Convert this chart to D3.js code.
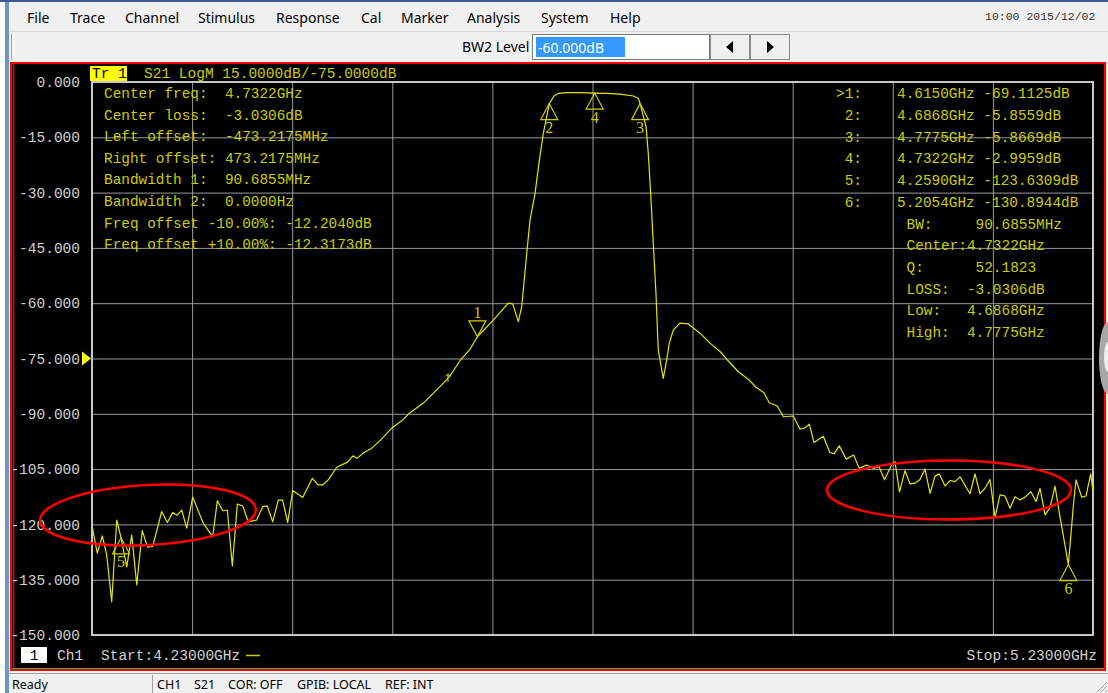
<!DOCTYPE html>
<html>
<head>
<meta charset="utf-8">
<script src="https://cdn.jsdelivr.net/npm/d3@7"></script>
<style>
  html, body { margin: 0; padding: 0; background: #f0f0f0; overflow: hidden; }
  svg text { white-space: pre; }
</style>
</head>
<body>
<div id="plotDiv"></div>
<script>
// S21 trace, frequency in GHz and level in dB
var freqs = [
  4.2303,4.2353,4.2403,4.2447,4.2497,4.2547,4.2590,4.2647,4.2697,4.2747,
  4.2802,4.2856,4.2906,4.2996,4.3052,4.3106,4.3152,4.3196,4.3246,4.3306,
  4.3412,4.3506,4.3552,4.3606,4.3652,4.3702,4.3752,4.3806,4.3861,4.3945,
  4.4005,4.4051,4.4105,4.4161,4.4205,4.4255,4.4305,4.4405,4.4501,4.4558,
  4.4605,4.4661,4.4745,4.4852,4.4907,4.4947,4.5017,4.5087,4.5187,4.5294,
  4.5394,4.5477,4.5610,4.5704,4.5810,4.5876,4.5976,4.6076,4.6150,4.6309,
  4.6459,4.6503,4.6559,4.6593,4.6643,4.6676,4.6726,4.6769,4.6809,4.6849,
  4.6868,4.6915,4.6958,4.7042,4.7175,4.7322,4.7442,4.7575,4.7708,4.7758,
  4.7775,4.7835,4.7857,4.7881,4.7907,4.7934,4.7957,4.8007,4.8041,4.8067,
  4.8107,4.8174,4.8254,4.8376,4.8476,4.8574,4.8647,4.8757,4.8856,4.8933,
  4.9013,4.9066,4.9146,4.9206,4.9306,4.9373,4.9423,4.9466,4.9513,4.9606,
  4.9670,4.9715,4.9765,4.9835,4.9909,4.9965,5.0035,5.0112,5.0162,5.0217,
  5.0292,5.0322,5.0367,5.0422,5.0472,5.0522,5.0572,5.0622,5.0672,5.0722,
  5.0765,5.0822,5.0872,5.0922,5.0972,5.1071,5.1121,5.1171,5.1221,5.1271,
  5.1321,5.1371,5.1421,5.1471,5.1521,5.1571,5.1621,5.1678,5.1731,5.1771,
  5.1821,5.1871,5.1921,5.1953,5.2054,5.2103,5.2130,5.2187,5.2230,5.2277,
  5.2300];
var s21 = [
  -120.8,-127.8,-123.1,-128.3,-141.0,-118.8,-123.6,-131.5,-122.9,-136.4,
  -121.7,-126.2,-126.0,-116.5,-119.5,-116.8,-117.5,-116.1,-121.0,-112.6,
  -119.7,-123.3,-113.6,-116.3,-116.1,-131.3,-114.5,-115.0,-119.3,-118.8,
  -115.2,-115.0,-119.3,-113.4,-113.4,-119.5,-110.8,-112.7,-107.5,-109.3,
  -109.3,-107.9,-104.5,-103.1,-101.4,-102.1,-100.5,-99.5,-97.0,-93.9,
  -91.9,-89.7,-87.1,-84.6,-81.7,-79.7,-75.6,-72.5,-69.1,-64.6,
  -60.0,-60.2,-65.0,-60.9,-46.5,-37.4,-30.2,-21.2,-13.9,-8.5,
  -5.86,-3.8,-3.1,-2.9,-2.9,-3.0,-3.1,-3.3,-3.8,-4.4,
  -5.87,-12.1,-19.3,-30.2,-43.7,-57.3,-72.7,-80.4,-75.4,-70.9,
  -67.3,-65.4,-65.6,-68.2,-70.9,-73.1,-75.4,-78.6,-80.6,-82.8,
  -84.3,-87.0,-87.9,-90.8,-90.6,-94.2,-93.8,-92.8,-97.8,-96.1,
  -100.5,-100.8,-98.7,-102.3,-101.2,-104.8,-103.9,-104.8,-104.3,-107.9,
  -103.6,-103.0,-111.2,-105.4,-109.0,-108.8,-107.8,-105.0,-111.6,-106.9,
  -106.3,-109.6,-108.1,-108.4,-107.1,-111.7,-106.3,-111.7,-110.2,-107.8,
  -118.1,-112.0,-112.3,-115.6,-112.5,-113.4,-112.6,-111.1,-113.8,-110.2,
  -117.4,-115.4,-109.6,-115.2,-130.9,-115.2,-107.9,-112.6,-112.3,-106.3,
  -111.1];

var markerIds = [1, 2, 3, 4, 5, 6];
var markerFreqs = [4.6150, 4.6868, 4.7775, 4.7322, 4.2590, 5.2054];
var markerVals = [-69.1125, -5.8559, -5.8669, -2.9959, -123.6309, -130.8944];
var markerUp = [false, true, true, true, true, true];
// little arrow glyph sitting on the rising skirt
var arrowPoint = [4.5856, -80.0];

var startFreq = 4.23, stopFreq = 5.23;
var topDb = 0, bottomDb = -150, refDb = -75;
var xTicks = [4.23, 4.33, 4.43, 4.53, 4.63, 4.73, 4.83, 4.93, 5.03, 5.13, 5.23];
var yTicks = [0, -15, -30, -45, -60, -75, -90, -105, -120, -135, -150];

var filterInfo = [
  "Center freq:  4.7322GHz",
  "Center loss:  -3.0306dB",
  "Left offset:  -473.2175MHz",
  "Right offset: 473.2175MHz",
  "Bandwidth 1:  90.6855MHz",
  "Bandwidth 2:  0.0000Hz",
  "Freq offset -10.00%: -12.2040dB",
  "Freq offset +10.00%: -12.3173dB"
];
var bwInfo = [
  "BW:     90.6855MHz",
  "Center:4.7322GHz",
  "Q:      52.1823",
  "LOSS:  -3.0306dB",
  "Low:   4.6868GHz",
  "High:  4.7775GHz"
];
var menuItems = ["File", "Trace", "Channel", "Stimulus", "Response", "Cal", "Marker", "Analysis", "System", "Help"];
var statusItems = ["CH1", "S21", "COR: OFF", "GPIB: LOCAL", "REF: INT"];

// layout of window pieces (screen positions, not data)
var menuX = [27, 70, 125, 198, 276, 361, 401, 467, 541, 610];
var statusX = [157, 194, 228, 297, 385];

var W = 1108, H = 693;
var plot = {left: 92, right: 1093, top: 82, bottom: 635};
var mono = "'Liberation Mono', 'DejaVu Sans Mono', monospace";
var ui = "'Noto Sans', 'Open Sans', sans-serif";
var txtYellow = "#cccc00";
var axisGrey = "#d0d0d0";

var svg = d3.select('#plotDiv')
    .append('svg')
    .attr('width', W)
    .attr('height', H)
    .style('display', 'block');

// ---- window chrome ----
svg.append('rect').attr('width', W).attr('height', H).attr('fill', '#f0f0f0');
svg.append('rect').attr('x', 0).attr('y', 0).attr('width', W).attr('height', 2).attr('fill', '#3b5b8e');
svg.append('rect').attr('x', 0).attr('y', 2).attr('width', 5).attr('height', H).attr('fill', '#ffffff');
svg.append('rect').attr('x', 5).attr('y', 2).attr('width', 4).attr('height', H).attr('fill', '#6c97c6');

var menu = svg.append('g').attr('id', 'menu');
menu.selectAll('text')
    .data(menuItems)
    .enter()
    .append('text')
      .attr('x', function(d, i) { return menuX[i]; })
      .attr('y', 17)
      .attr('dominant-baseline', 'central')
      .attr('font-family', ui)
      .attr('font-size', 14)
      .attr('fill', '#000')
      .text(function(d) { return d; });

menu.append('text')
    .attr('x', 985).attr('y', 16)
    .attr('dominant-baseline', 'central')
    .attr('font-family', mono)
    .attr('font-size', 11.5)
    .attr('fill', '#333')
    .text("10:00 2015/12/02");

// toolbar
svg.append('line').attr('x1', 9).attr('x2', W).attr('y1', 31.5).attr('y2', 31.5).attr('stroke', '#d9d9d9');
svg.append('line').attr('x1', 11.5).attr('x2', 11.5).attr('y1', 34).attr('y2', 60).attr('stroke', '#a0a0a0');
svg.append('line').attr('x1', 13.5).attr('x2', 13.5).attr('y1', 34).attr('y2', 60).attr('stroke', '#ffffff');
svg.append('text')
    .attr('x', 462).attr('y', 46)
    .attr('dominant-baseline', 'central')
    .attr('font-family', ui).attr('font-size', 14)
    .text("BW2 Level");
svg.append('rect').attr('x', 532.5).attr('y', 34.5).attr('width', 177).attr('height', 25)
    .attr('fill', '#fff').attr('stroke', '#7a7a7a');
svg.append('rect').attr('x', 536).attr('y', 37).attr('width', 89).attr('height', 20).attr('fill', '#3399ff');
svg.append('text')
    .attr('x', 538).attr('y', 47)
    .attr('dominant-baseline', 'central')
    .attr('font-family', ui).attr('font-size', 14).attr('fill', '#fff')
    .text("-60.000dB");
[710.5, 750.5].forEach(function(bx, i) {
    svg.append('rect').attr('x', bx).attr('y', 34.5).attr('width', 39).attr('height', 25)
        .attr('fill', '#f0f0f0').attr('stroke', '#8a8a8a');
    var cx = bx + 19.5, cy = 47;
    var d = i === 0
        ? 'M' + (cx - 4) + ',' + cy + 'L' + (cx + 3) + ',' + (cy - 6) + 'L' + (cx + 3) + ',' + (cy + 6) + 'Z'
        : 'M' + (cx + 4) + ',' + cy + 'L' + (cx - 3) + ',' + (cy - 6) + 'L' + (cx - 3) + ',' + (cy + 6) + 'Z';
    svg.append('path').attr('d', d).attr('fill', '#000');
});

// chart frame
svg.append('rect').attr('x', 11).attr('y', 63).attr('width', 1094).attr('height', 607)
    .attr('fill', '#000').attr('stroke', '#ff0000').attr('stroke-width', 2);
svg.append('line').attr('x1', 13.8).attr('x2', 13.8).attr('y1', 64).attr('y2', 669).attr('stroke', '#ff0000').attr('stroke-width', 1.2);
svg.append('line').attr('x1', 12).attr('x2', 1104).attr('y1', 668.5).attr('y2', 668.5).attr('stroke', '#2db34a').attr('stroke-width', 1);
svg.append('path')
    .attr('d', 'M1108,322 A9,36 0 0 0 1108,394 Z')
    .attr('fill', '#a8a8a8');
svg.append('path')
    .attr('d', 'M1108,342 A4,15 0 0 0 1108,372 Z')
    .attr('fill', '#f0f0f0');

// status bar
svg.append('rect').attr('x', 9).attr('y', 673).attr('width', W - 9).attr('height', 20).attr('fill', '#f0f0f0');
svg.append('line').attr('x1', 9).attr('x2', W).attr('y1', 673.5).attr('y2', 673.5).attr('stroke', '#a0a0a0');
svg.append('line').attr('x1', 152.5).attr('x2', 152.5).attr('y1', 675).attr('y2', 693).attr('stroke', '#a0a0a0');
svg.append('text')
    .attr('x', 12).attr('y', 684)
    .attr('dominant-baseline', 'central')
    .attr('font-family', ui).attr('font-size', 12.5)
    .text("Ready");
svg.append('g').selectAll('text')
    .data(statusItems)
    .enter()
    .append('text')
      .attr('x', function(d, i) { return statusX[i]; })
      .attr('y', 684)
      .attr('dominant-baseline', 'central')
      .attr('font-family', ui).attr('font-size', 12.5)
      .text(function(d) { return d; });
for (var k = 0; k < 3; k++) {
    svg.append('line')
        .attr('x1', W - 3 - k * 4).attr('y1', H - 1)
        .attr('x2', W - 1).attr('y2', H - 3 - k * 4)
        .attr('stroke', '#a0a0a0');
}

// ---- plot ----
var x = d3.scaleLinear().domain([startFreq, stopFreq]).range([plot.left, plot.right]);
var y = d3.scaleLinear().domain([topDb, bottomDb]).range([plot.top, plot.bottom]);

var yAxis = d3.axisLeft(y)
    .tickValues(yTicks)
    .tickFormat(function(d) { return d.toFixed(3); })
    .tickSize(-(plot.right - plot.left))
    .tickPadding(12);
var gy = svg.append('g')
    .attr('transform', 'translate(' + plot.left + ',0)')
    .call(yAxis);
gy.select('.domain').remove();
gy.selectAll('line').attr('stroke', '#9a9a9a').attr('stroke-width', 1);
gy.selectAll('text')
    .attr('fill', axisGrey)
    .attr('font-family', mono)
    .attr('font-size', 14.5);

var xAxis = d3.axisBottom(x)
    .tickValues(xTicks)
    .tickFormat('')
    .tickSize(-(plot.bottom - plot.top));
var gx = svg.append('g')
    .attr('transform', 'translate(0,' + plot.bottom + ')')
    .call(xAxis);
gx.select('.domain').remove();
gx.selectAll('line').attr('stroke', '#9a9a9a').attr('stroke-width', 1);

svg.append('rect')
    .attr('x', plot.left).attr('y', plot.top)
    .attr('width', plot.right - plot.left).attr('height', plot.bottom - plot.top)
    .attr('fill', 'none').attr('stroke', '#c8c8c8').attr('stroke-width', 2);

// reference position arrow
var ry = y(refDb);
svg.append('path')
    .attr('d', 'M' + (plot.left - 10) + ',' + (ry - 7) + 'L' + (plot.left - 1) + ',' + ry + 'L' + (plot.left - 10) + ',' + (ry + 7) + 'Z')
    .attr('fill', '#ffff00');

// trace
var line = d3.line()
    .x(function(d) { return x(d[0]); })
    .y(function(d) { return y(d[1]); });
svg.append('path')
    .datum(d3.zip(freqs, s21))
    .attr('d', line)
    .attr('fill', 'none')
    .attr('stroke', '#e6e600')
    .attr('stroke-width', 1.2)
    .attr('stroke-linejoin', 'round');

var ax = x(arrowPoint[0]), ay = y(arrowPoint[1]);
svg.append('path')
    .attr('d', 'M' + ax + ',' + (ay - 3) + 'L' + ax + ',' + (ay + 5) + 'M' + (ax - 2.5) + ',' + (ay - 0.5) + 'L' + ax + ',' + (ay - 3) + 'L' + (ax + 2.5) + ',' + (ay - 0.5))
    .attr('fill', 'none').attr('stroke', '#e6e600').attr('stroke-width', 1);

// markers
var mk = svg.append('g').attr('id', 'markers');
markerIds.forEach(function(id, i) {
    var px = x(markerFreqs[i]), py = y(markerVals[i]);
    var dir = markerUp[i] ? 1 : -1;
    mk.append('path')
        .attr('d', 'M' + px + ',' + py + 'L' + (px - 8.5) + ',' + (py + 16 * dir) + 'L' + (px + 8.5) + ',' + (py + 16 * dir) + 'Z')
        .attr('fill', 'none')
        .attr('stroke', '#d0d000')
        .attr('stroke-width', 1.2);
    mk.append('text')
        .attr('x', px).attr('y', py + 24 * dir)
        .attr('text-anchor', 'middle')
        .attr('dominant-baseline', 'central')
        .attr('font-family', "'Liberation Serif', serif")
        .attr('font-size', 16)
        .attr('fill', '#c8c800')
        .text(id);
});

// red highlight ellipses
svg.append('ellipse')
    .attr('cx', 148).attr('cy', 515).attr('rx', 108).attr('ry', 30)
    .attr('transform', 'rotate(-3,148,515)')
    .attr('fill', 'none').attr('stroke', '#ff0000').attr('stroke-width', 2.5);
svg.append('ellipse')
    .attr('cx', 949).attr('cy', 490).attr('rx', 122).attr('ry', 29.5)
    .attr('fill', 'none').attr('stroke', '#ff0000').attr('stroke-width', 2.5);

// trace title
svg.append('rect').attr('x', 90).attr('y', 66).attr('width', 37).attr('height', 15).attr('fill', '#ffff00');
svg.append('text')
    .attr('x', 92).attr('y', 73.5)
    .attr('dominant-baseline', 'central')
    .attr('font-family', mono).attr('font-size', 14.5).attr('fill', '#000')
    .text("Tr 1");
svg.append('text')
    .attr('x', 144).attr('y', 73.5)
    .attr('dominant-baseline', 'central')
    .attr('font-family', mono).attr('font-size', 14.5).attr('fill', txtYellow)
    .text("S21 LogM " + (-refDb / 5).toFixed(4) + "dB/" + refDb.toFixed(4) + "dB");

// filter readout, left block
svg.append('g').selectAll('text')
    .data(filterInfo)
    .enter()
    .append('text')
      .attr('x', 104)
      .attr('y', function(d, i) { return 94 + i * 21.6; })
      .attr('dominant-baseline', 'central')
      .attr('font-family', mono).attr('font-size', 14.4).attr('fill', txtYellow)
      .text(function(d) { return d; });

// marker table, right block
var mt = svg.append('g');
markerIds.forEach(function(id, i) {
    var ty = 94.3 + i * 21.7;
    mt.append('text')
        .attr('x', 862).attr('y', ty)
        .attr('text-anchor', 'end')
        .attr('dominant-baseline', 'central')
        .attr('font-family', mono).attr('font-size', 14.4).attr('fill', txtYellow)
        .text((i === 0 ? ">" : "") + id + ":");
    mt.append('text')
        .attr('x', 897).attr('y', ty)
        .attr('dominant-baseline', 'central')
        .attr('font-family', mono).attr('font-size', 14.4).attr('fill', txtYellow)
        .text(markerFreqs[i].toFixed(4) + "GHz " + markerVals[i].toFixed(4) + "dB");
});
mt.selectAll('.bw')
    .data(bwInfo)
    .enter()
    .append('text')
      .attr('class', 'bw')
      .attr('x', 906.5)
      .attr('y', function(d, i) { return 94.3 + (i + 6) * 21.7; })
      .attr('dominant-baseline', 'central')
      .attr('font-family', mono).attr('font-size', 14.4).attr('fill', txtYellow)
      .text(function(d) { return d; });

// channel footer
svg.append('rect').attr('x', 21).attr('y', 647).attr('width', 26).attr('height', 16).attr('fill', '#fff');
svg.append('text')
    .attr('x', 34).attr('y', 655.5)
    .attr('text-anchor', 'middle').attr('dominant-baseline', 'central')
    .attr('font-family', mono).attr('font-size', 14.5).attr('fill', '#000')
    .text("1");
svg.append('text')
    .attr('x', 57).attr('y', 655.5)
    .attr('dominant-baseline', 'central')
    .attr('font-family', mono).attr('font-size', 14.5).attr('fill', axisGrey)
    .text("Ch1");
svg.append('text')
    .attr('x', 101).attr('y', 655.5)
    .attr('dominant-baseline', 'central')
    .attr('font-family', mono).attr('font-size', 14.5).attr('fill', axisGrey)
    .text("Start:" + startFreq.toFixed(5) + "GHz");
svg.append('line').attr('x1', 246).attr('x2', 260).attr('y1', 655.5).attr('y2', 655.5)
    .attr('stroke', '#c8c800').attr('stroke-width', 1.5);
svg.append('text')
    .attr('x', 1097).attr('y', 655.5)
    .attr('text-anchor', 'end')
    .attr('dominant-baseline', 'central')
    .attr('font-family', mono).attr('font-size', 14.5).attr('fill', axisGrey)
    .text("Stop:" + stopFreq.toFixed(5) + "GHz");
</script>
</body>
</html>
